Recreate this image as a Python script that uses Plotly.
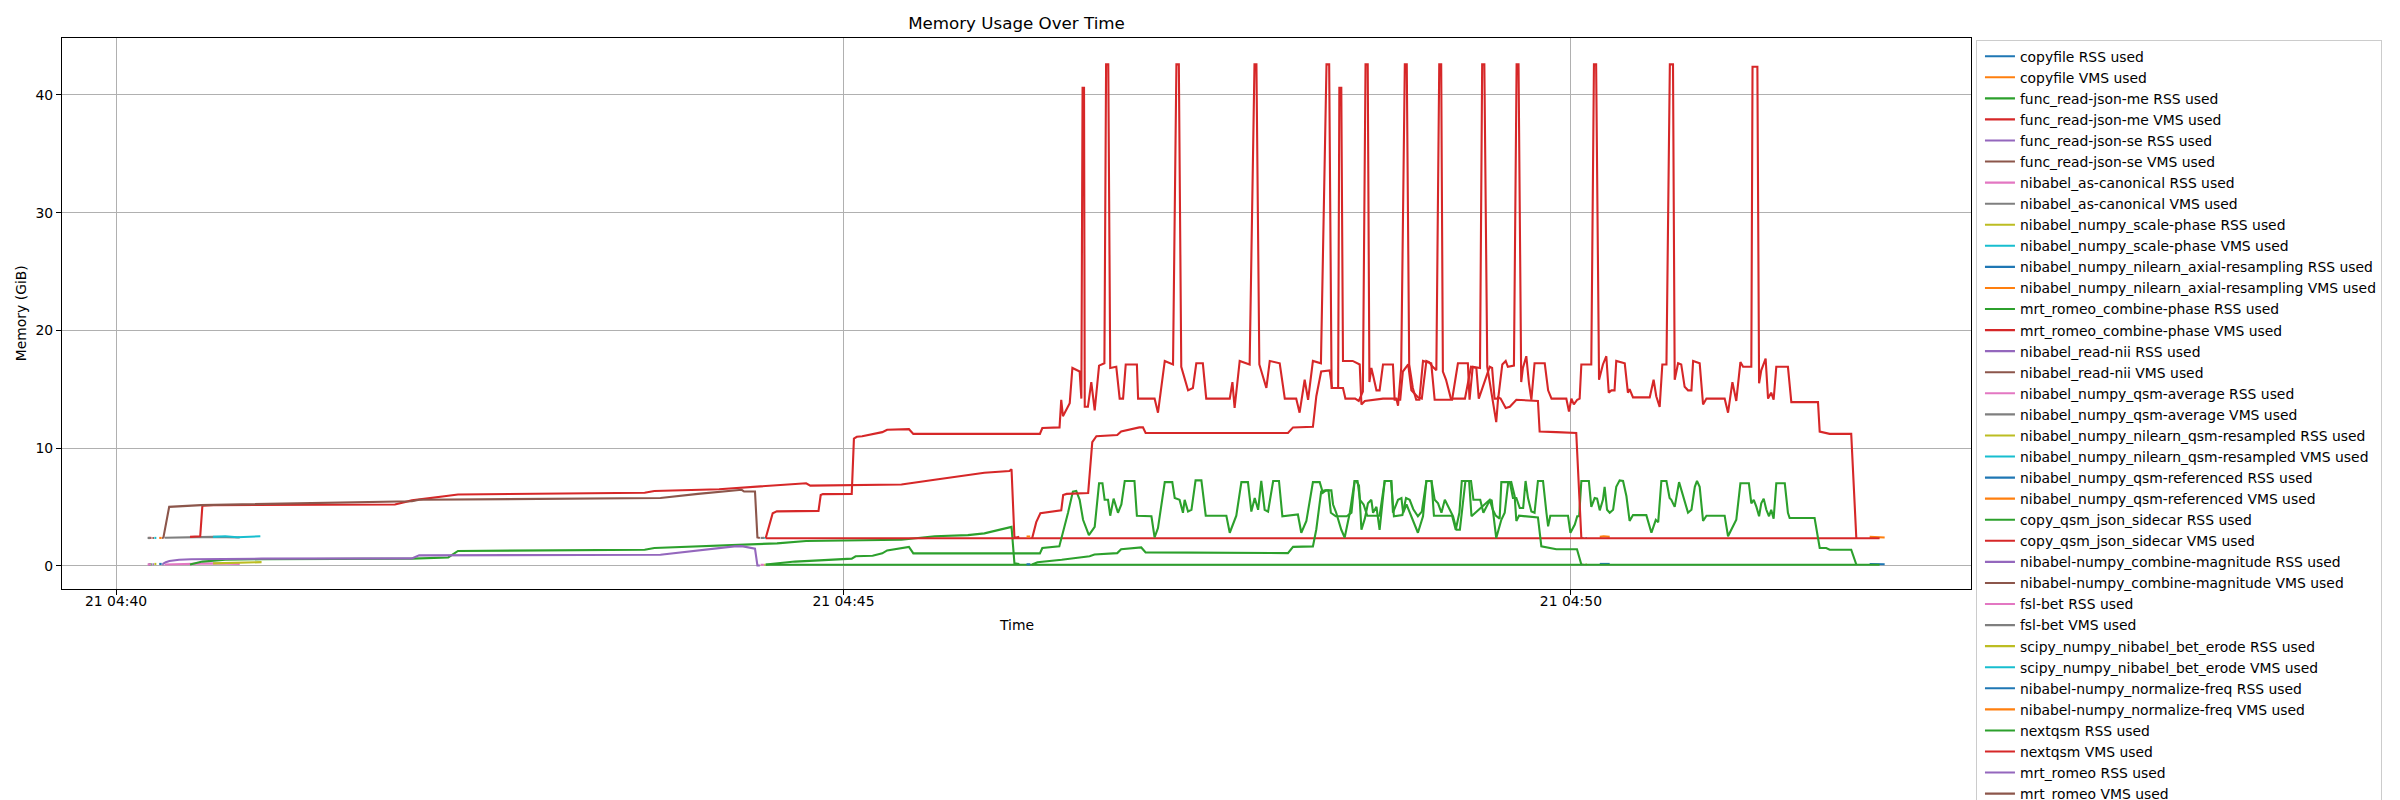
import pandas as pd
import plotly.graph_objects as go

# times are seconds after 04:40:00, values in GiB; each list holds line segments
START = pd.Timestamp("2024-03-21 04:40:00")

copyfile_rss = [[(17.8, 0.15), (18.8, 0.15)]]
copyfile_vms = [[(17.8, 2.36), (18.8, 2.36)]]

read_json_me_rss = [[(13.5, 0.12), (14.7, 0.12)]]
read_json_me_vms = [[(13.3, 2.36), (14.6, 2.36)]]

read_json_se_rss = [[(13.2, 0.1), (14.0, 0.1)]]
read_json_se_vms = [[(13.2, 2.35), (14.0, 2.35)]]

as_canonical_rss = [[(13.0, 0.1), (14.5, 0.12)],
                    [(20.0, 0.1), (30.0, 0.15), (40.0, 0.2), (51.0, 0.15)]]
as_canonical_vms = [[(13.0, 2.36), (14.3, 2.36)],
                    [(20.0, 2.38), (30.0, 2.42), (40.0, 2.45), (51.0, 2.4)]]

scale_phase_rss = [[(15.8, 0.15), (16.6, 0.15)],
                   [(40.0, 0.2), (50.0, 0.22), (55.0, 0.25), (60.0, 0.3)]]
scale_phase_vms = [[(15.8, 2.36), (16.6, 2.36)],
                   [(40.0, 2.45), (45.0, 2.5), (50.0, 2.42), (55.0, 2.45), (59.5, 2.5)]]

axial_resampling_rss = [[(611.9, 0.15), (616.0, 0.15)]]
axial_resampling_vms = [[(611.9, 2.45), (613.5, 2.5), (616.0, 2.45)]]

combine_phase_rss = [[(30.5, 0.1), (35.6, 0.35), (45.0, 0.5), (60.0, 0.55), (122.0, 0.6),
                      (137.0, 0.7), (141.0, 1.25), (218.0, 1.35), (222.0, 1.5), (248.7, 1.7),
                      (262.0, 1.8), (272.6, 1.9), (284.6, 2.1), (323.9, 2.2), (337.6, 2.5),
                      (351.3, 2.6), (358.1, 2.75), (368.4, 3.2), (369.3, 3.3), (370.5, 0.2),
                      (372.5, 0.15)]]
combine_phase_vms = [[(30.5, 2.45), (34.7, 2.5), (35.6, 5.1), (40.0, 5.15), (115.0, 5.2),
                      (122.0, 5.55), (137.0, 5.95), (141.0, 6.05), (218.0, 6.2), (222.0, 6.35),
                      (248.7, 6.5), (262.0, 6.7), (272.6, 6.8), (284.6, 7.0), (286.3, 6.8),
                      (323.9, 6.9), (337.6, 7.3), (351.3, 7.7), (358.1, 7.9), (368.4, 8.05),
                      (369.3, 8.2), (370.5, 2.35), (372.5, 2.45)]]

read_nii_rss = [[(15.0, 0.12), (15.6, 0.12)]]
read_nii_vms = [[(15.0, 2.35), (15.6, 2.35)]]

qsm_average_rss = [[(604.6, 0.1), (605.2, 0.1)]]
qsm_average_vms = [[(604.6, 2.35), (605.2, 2.35)]]

qsm_resampled_rss = [[(606.0, 0.1), (606.6, 0.1)]]
qsm_resampled_vms = [[(606.0, 2.35), (606.6, 2.35)]]

qsm_referenced_rss = [[(723.2, 0.15), (726.0, 0.12), (729.4, 0.12)]]
qsm_referenced_vms = [[(723.2, 2.45), (726.0, 2.4), (729.4, 2.4)]]

sidecar_rss = [[(267.9, 0.08), (400.0, 0.08), (550.0, 0.09), (727.3, 0.08)]]
sidecar_vms = [[(267.9, 2.33), (400.0, 2.33), (550.0, 2.34), (727.3, 2.33)]]

combine_magnitude_rss = [[(19.0, 0.12), (19.6, 0.12)]]
combine_magnitude_vms = [[(19.0, 2.35), (19.6, 2.35)]]

fsl_bet_rss = [[(265.8, 0.08), (267.2, 0.08)]]
fsl_bet_vms = [[(265.8, 2.36), (267.2, 2.36)]]

bet_erode_rss = [[(267.3, 0.08), (267.8, 0.08)]]
bet_erode_vms = [[(267.3, 2.35), (267.8, 2.35)]]

normalize_freq_rss = [[(375.5, 0.12), (377.0, 0.12)]]
normalize_freq_vms = [[(375.5, 2.48), (377.0, 2.48)]]

nextqsm_rss = [
    [(267.9, 0.1), (275.0, 0.25), (280.0, 0.35), (290.0, 0.45), (303.4, 0.6), (305.0, 0.8),
     (312.0, 0.85), (316.0, 1.05), (318.0, 1.3), (327.0, 1.6), (328.8, 1.05), (381.0, 1.05),
     (382.0, 1.5), (389.0, 1.64), (391.2, 3.3), (392.6, 4.5), (394.6, 6.3), (396.0, 6.35),
     (397.4, 5.6), (398.8, 3.9), (401.2, 2.6), (403.6, 3.3), (405.4, 7.0), (406.8, 7.0),
     (407.7, 5.6), (409.1, 5.6), (410.0, 4.25), (411.4, 5.7), (413.2, 4.5), (414.6, 5.2),
     (416.0, 7.2), (420.0, 7.2), (421.0, 4.25), (427.0, 4.2), (428.3, 2.4), (429.7, 3.2),
     (432.5, 7.1), (435.6, 7.1), (436.6, 5.75), (438.6, 5.6), (440.0, 4.5), (440.7, 5.6),
     (442.1, 4.6), (443.5, 4.75), (445.2, 7.25), (447.6, 7.25), (449.4, 4.25), (457.9, 4.25),
     (459.3, 2.8), (462.0, 4.25), (464.1, 7.1), (466.8, 7.1), (468.2, 4.6), (469.6, 5.75),
     (471.0, 4.75), (472.3, 7.2), (473.7, 4.75), (475.1, 4.6), (477.2, 7.2), (479.6, 7.2),
     (481.0, 4.2), (487.4, 4.35), (488.8, 2.8), (490.9, 3.8), (493.6, 7.1), (496.4, 7.1),
     (497.7, 6.2), (499.0, 6.4), (501.2, 6.4), (501.9, 5.2), (503.2, 4.5), (505.3, 3.05),
     (506.7, 2.4), (508.8, 4.5), (510.8, 7.2), (511.5, 7.2), (512.6, 6.8), (513.6, 3.05),
     (515.0, 4.0), (516.3, 5.3), (517.7, 5.6), (518.4, 4.5), (519.8, 5.0), (521.1, 3.05),
     (523.2, 7.2), (526.0, 7.2), (526.6, 4.5), (528.7, 5.6), (530.1, 5.75), (530.8, 4.5),
     (532.2, 5.2), (534.2, 4.2), (536.9, 2.8), (539.0, 4.2), (540.4, 7.2), (542.5, 7.2),
     (543.8, 5.6), (545.2, 5.3), (546.6, 4.5), (548.0, 5.6), (551.4, 4.2), (552.8, 3.05),
     (554.2, 3.05), (556.5, 7.2), (558.8, 7.2), (559.8, 5.6), (562.6, 5.6), (563.9, 4.5),
     (565.9, 5.3), (567.3, 5.6), (569.2, 2.35), (571.3, 3.9), (572.7, 4.5), (574.1, 7.0),
     (575.4, 7.1), (576.8, 5.9), (577.5, 3.8), (578.6, 4.25), (586.4, 4.1), (587.8, 1.64),
     (594.0, 1.4), (602.5, 1.4), (604.3, 0.1)],
    [(377.8, 0.1), (380.0, 0.3), (390.0, 0.5), (401.5, 0.8), (403.5, 0.95), (407.0, 1.0),
     (412.9, 1.07), (414.5, 1.4), (422.8, 1.55), (424.6, 1.13), (483.3, 1.07), (485.4, 1.6),
     (493.6, 1.64), (495.0, 3.1), (497.0, 6.3), (498.5, 6.4), (500.0, 6.4), (501.0, 4.5),
     (503.0, 4.2), (507.5, 4.2), (509.5, 4.5), (510.8, 7.2), (512.0, 7.2), (513.0, 5.6),
     (514.5, 5.2), (516.0, 4.25), (521.1, 4.25), (523.2, 7.2), (525.8, 7.2), (527.0, 4.2),
     (530.5, 4.3), (532.0, 5.75), (533.5, 5.6), (535.0, 4.8), (536.9, 4.2), (538.5, 4.6),
     (540.4, 7.2), (542.5, 7.2), (543.5, 4.25), (551.0, 4.25), (552.5, 3.05), (554.0, 4.5),
     (555.0, 7.2), (558.0, 7.2), (559.0, 4.2), (566.5, 5.6), (567.8, 4.75), (569.0, 4.25),
     (570.6, 4.0), (571.3, 7.1), (574.8, 7.1), (576.1, 5.75), (577.5, 5.75), (578.9, 4.9),
     (580.3, 4.9), (581.3, 7.2), (582.3, 5.75), (583.7, 4.6), (585.0, 4.5), (586.4, 7.2),
     (588.5, 7.2), (589.9, 4.5), (590.6, 3.35), (591.5, 4.25), (598.8, 4.25), (599.8, 2.8),
     (601.6, 3.5), (602.6, 4.2), (603.4, 4.2), (604.3, 7.2), (607.4, 7.2), (608.4, 5.0),
     (609.8, 5.75), (610.8, 5.7), (611.9, 4.7), (613.2, 5.6), (613.9, 6.7), (614.9, 4.75),
     (616.0, 4.5), (617.4, 4.75), (618.7, 6.7), (620.1, 7.25), (621.5, 7.2), (622.9, 5.9),
     (624.2, 3.8), (625.6, 4.3), (631.1, 4.3), (633.2, 2.8), (635.0, 3.9), (636.0, 3.7),
     (637.3, 7.2), (639.4, 7.2), (640.7, 5.75), (641.4, 5.6), (642.8, 5.0), (644.6, 7.1),
     (646.2, 5.9), (648.3, 4.5), (649.7, 4.75), (651.1, 6.7), (652.0, 7.2), (653.1, 6.7),
     (654.5, 3.8), (655.9, 4.25), (663.4, 4.25), (664.8, 2.5), (668.2, 3.9), (669.9, 7.0),
     (673.4, 7.0), (674.4, 5.3), (675.4, 5.6), (676.5, 5.0), (677.6, 4.2), (678.5, 5.3),
     (679.5, 5.7), (680.6, 4.75), (681.7, 4.2), (682.6, 4.75), (683.6, 4.0), (684.7, 7.0),
     (688.2, 7.0), (689.5, 4.5), (690.2, 4.05), (700.5, 4.05), (702.6, 1.5), (705.3, 1.5),
     (706.7, 1.36), (715.6, 1.36), (717.7, 0.1)],
]

nextqsm_vms = [
    [(267.9, 2.33), (269.2, 3.2), (270.8, 4.46), (272.5, 4.62), (289.7, 4.66), (290.6, 6.0),
     (291.5, 6.08), (303.4, 6.1), (304.3, 10.8), (305.5, 10.95), (307.7, 11.0), (316.0, 11.35),
     (318.0, 11.55), (327.0, 11.6), (328.8, 11.2), (381.0, 11.2), (382.0, 11.7), (389.1, 11.75),
     (389.8, 14.1), (390.5, 12.7), (391.2, 13.0), (393.3, 13.8), (394.4, 16.8), (397.4, 16.5),
     (398.1, 14.2), (398.6, 40.6), (399.2, 40.6), (399.5, 13.5), (400.8, 13.5), (402.2, 15.6),
     (403.6, 13.2), (405.4, 17.0), (407.6, 17.2), (408.3, 42.6), (409.2, 42.6), (410.0, 16.8),
     (412.5, 16.9), (413.9, 14.2), (415.3, 14.2), (416.4, 17.1), (421.0, 17.1), (421.5, 14.2),
     (428.3, 14.2), (429.7, 13.0), (432.5, 17.4), (435.9, 17.1), (437.3, 42.6), (438.3, 42.6),
     (439.3, 16.9), (442.1, 14.9), (444.1, 15.1), (445.5, 17.2), (448.2, 17.2), (449.6, 14.2),
     (459.3, 14.2), (460.4, 15.6), (461.3, 13.4), (463.4, 17.4), (467.5, 17.1), (469.5, 42.6),
     (470.3, 42.6), (471.5, 17.1), (474.4, 15.1), (475.8, 17.4), (479.9, 17.2), (482.0, 14.2),
     (486.7, 14.2), (488.1, 13.0), (490.2, 15.8), (491.6, 14.1), (493.6, 17.4), (496.9, 17.2),
     (499.2, 42.6), (500.3, 42.6), (501.3, 15.1), (504.0, 15.1), (504.5, 40.6), (505.3, 40.6),
     (506.0, 17.4), (510.0, 17.4), (512.9, 17.1), (513.6, 13.7), (515.0, 14.0), (522.5, 14.2),
     (528.0, 14.2), (528.7, 13.6), (530.0, 16.8), (531.5, 42.6), (532.3, 42.6), (533.3, 17.1),
     (534.8, 15.1), (536.2, 14.1), (537.5, 14.1), (539.0, 17.4), (542.4, 17.2), (543.8, 14.1),
     (551.0, 14.1), (553.4, 17.2), (557.5, 17.2), (558.2, 14.1), (559.5, 16.9), (562.5, 16.8),
     (563.4, 42.6), (564.3, 42.6), (565.5, 16.9), (567.6, 14.2), (569.2, 12.2), (570.0, 14.3),
     (571.0, 14.2), (573.1, 13.4), (574.8, 13.5), (577.5, 14.1), (586.4, 14.0), (587.1, 11.4),
     (588.5, 11.4), (594.0, 11.35), (602.2, 11.27), (604.3, 2.35)],
    [(377.8, 2.33), (378.7, 3.0), (379.5, 3.7), (381.2, 4.45), (389.8, 4.7), (390.6, 6.0),
     (392.0, 6.1), (400.9, 6.17), (402.6, 10.5), (404.3, 11.0), (412.9, 11.1), (414.5, 11.4),
     (422.0, 11.75), (423.5, 11.75), (424.6, 11.27), (483.3, 11.27), (485.4, 11.75),
     (493.6, 11.8), (495.0, 14.4), (497.0, 16.5), (500.5, 16.6), (501.5, 15.1), (506.0, 15.1),
     (507.0, 14.2), (511.0, 14.2), (512.5, 14.0), (514.2, 14.8), (515.3, 42.6), (516.2, 42.6),
     (516.9, 15.6), (517.7, 16.8), (518.5, 16.1), (519.8, 14.9), (521.1, 14.9), (522.5, 17.1),
     (526.6, 17.1), (527.3, 14.1), (529.6, 14.1), (530.7, 16.5), (532.9, 17.1), (534.2, 14.9),
     (537.0, 14.3), (538.5, 14.2), (540.4, 17.4), (541.5, 17.3), (543.0, 16.9), (544.5, 16.6),
     (545.7, 42.6), (546.5, 42.6), (547.2, 16.5), (548.5, 15.8), (550.5, 14.2), (556.3, 14.2),
     (558.8, 16.9), (561.0, 16.8), (562.0, 14.2), (566.5, 16.9), (567.5, 16.8), (568.5, 14.2),
     (570.0, 14.2), (571.7, 17.1), (573.1, 17.4), (574.0, 16.9), (576.5, 17.0), (577.6, 42.6),
     (578.4, 42.6), (579.5, 15.6), (580.2, 16.8), (581.6, 17.8), (582.7, 15.5), (583.7, 14.1),
     (585.0, 17.2), (589.2, 17.2), (590.6, 14.9), (592.0, 14.2), (598.1, 14.2), (599.2, 13.1),
     (600.2, 14.2), (601.2, 13.7), (602.6, 14.1), (603.6, 14.2), (604.3, 17.1), (608.4, 17.1),
     (609.5, 42.6), (610.4, 42.6), (611.6, 15.8), (613.2, 17.1), (614.6, 17.8), (615.6, 14.7),
     (616.7, 14.9), (618.0, 14.9), (618.7, 17.4), (622.2, 17.2), (623.5, 14.7), (624.2, 15.0),
     (625.6, 14.3), (632.5, 14.3), (634.1, 15.8), (635.2, 14.4), (636.6, 13.5), (637.7, 17.1),
     (639.4, 17.1), (640.8, 42.6), (642.1, 42.6), (642.8, 15.8), (644.2, 17.2), (645.5, 17.1),
     (646.9, 15.2), (648.3, 14.9), (649.7, 14.9), (650.4, 17.4), (653.1, 17.2), (654.5, 13.7),
     (655.9, 14.2), (663.4, 14.2), (664.8, 13.0), (666.6, 15.6), (668.2, 14.0), (669.9, 17.3),
     (671.0, 16.9), (674.4, 16.9), (674.9, 42.4), (676.9, 42.4), (677.6, 15.5), (678.5, 16.6),
     (680.3, 17.6), (681.3, 14.2), (682.6, 14.7), (683.6, 14.1), (684.7, 16.9), (689.5, 16.9),
     (690.9, 13.9), (701.9, 13.9), (702.6, 11.4), (705.3, 11.3), (706.7, 11.2), (715.6, 11.2),
     (717.7, 2.35)],
]

romeo_rss = [[(19.3, 0.15), (20.5, 0.3), (22.0, 0.4), (26.0, 0.5), (31.0, 0.55), (60.0, 0.6),
              (122.0, 0.62), (125.0, 0.88), (224.5, 0.93), (240.0, 1.3), (255.0, 1.64),
              (258.0, 1.66), (262.0, 1.5), (263.5, 1.45), (264.5, 0.02), (265.5, 0.02)]]
romeo_vms = [[(19.5, 2.36), (21.0, 4.0), (21.9, 5.0), (35.0, 5.15), (115.0, 5.45),
              (122.0, 5.47), (125.0, 5.6), (224.5, 5.75), (240.0, 6.1), (255.0, 6.4),
              (258.0, 6.45), (259.0, 6.3), (263.5, 6.3), (264.5, 2.4), (265.5, 2.36)]]

series = [
    ("copyfile RSS used", copyfile_rss),
    ("copyfile VMS used", copyfile_vms),
    ("func_read-json-me RSS used", read_json_me_rss),
    ("func_read-json-me VMS used", read_json_me_vms),
    ("func_read-json-se RSS used", read_json_se_rss),
    ("func_read-json-se VMS used", read_json_se_vms),
    ("nibabel_as-canonical RSS used", as_canonical_rss),
    ("nibabel_as-canonical VMS used", as_canonical_vms),
    ("nibabel_numpy_scale-phase RSS used", scale_phase_rss),
    ("nibabel_numpy_scale-phase VMS used", scale_phase_vms),
    ("nibabel_numpy_nilearn_axial-resampling RSS used", axial_resampling_rss),
    ("nibabel_numpy_nilearn_axial-resampling VMS used", axial_resampling_vms),
    ("mrt_romeo_combine-phase RSS used", combine_phase_rss),
    ("mrt_romeo_combine-phase VMS used", combine_phase_vms),
    ("nibabel_read-nii RSS used", read_nii_rss),
    ("nibabel_read-nii VMS used", read_nii_vms),
    ("nibabel_numpy_qsm-average RSS used", qsm_average_rss),
    ("nibabel_numpy_qsm-average VMS used", qsm_average_vms),
    ("nibabel_numpy_nilearn_qsm-resampled RSS used", qsm_resampled_rss),
    ("nibabel_numpy_nilearn_qsm-resampled VMS used", qsm_resampled_vms),
    ("nibabel_numpy_qsm-referenced RSS used", qsm_referenced_rss),
    ("nibabel_numpy_qsm-referenced VMS used", qsm_referenced_vms),
    ("copy_qsm_json_sidecar RSS used", sidecar_rss),
    ("copy_qsm_json_sidecar VMS used", sidecar_vms),
    ("nibabel-numpy_combine-magnitude RSS used", combine_magnitude_rss),
    ("nibabel-numpy_combine-magnitude VMS used", combine_magnitude_vms),
    ("fsl-bet RSS used", fsl_bet_rss),
    ("fsl-bet VMS used", fsl_bet_vms),
    ("scipy_numpy_nibabel_bet_erode RSS used", bet_erode_rss),
    ("scipy_numpy_nibabel_bet_erode VMS used", bet_erode_vms),
    ("nibabel-numpy_normalize-freq RSS used", normalize_freq_rss),
    ("nibabel-numpy_normalize-freq VMS used", normalize_freq_vms),
    ("nextqsm RSS used", nextqsm_rss),
    ("nextqsm VMS used", nextqsm_vms),
    ("mrt_romeo RSS used", romeo_rss),
    ("mrt_romeo VMS used", romeo_vms),
]

# matplotlib tab10 cycle
colors = ['#1f77b4', '#ff7f0e', '#2ca02c', '#d62728', '#9467bd',
          '#8c564b', '#e377c2', '#7f7f7f', '#bcbd22', '#17becf']


def to_xy(segments):
    xs, ys = [], []
    for seg in segments:
        for t, v in seg:
            xs.append((START + pd.Timedelta(seconds=t)).to_pydatetime())
            ys.append(v)
        xs.append(None)
        ys.append(None)
    return xs, ys


font = "DejaVu Sans"
fig = go.Figure()
for i, (name, segs) in enumerate(series):
    x, y = to_xy(segs)
    fig.add_trace(go.Scatter(x=x, y=y, mode="lines", name=name, connectgaps=False,
                             line=dict(color=colors[i % 10], width=2.1)))

x_lo = START + pd.Timedelta(seconds=-22.3)
x_hi = START + pd.Timedelta(seconds=765.0)

# the page body adds an 8px offset, so the figure is 8px smaller than the window
W, H = 2392, 792

fig.update_layout(
    width=W, height=H,
    paper_bgcolor="white", plot_bgcolor="white",
    font=dict(family=font, size=13.9, color="black"),
    margin=dict(l=54, r=429, t=30, b=211, autoexpand=False),
    title=dict(text="Memory Usage Over Time", x=0.5, xref="paper", xanchor="center",
               y=1 - 15 / H, yref="container", yanchor="middle",
               font=dict(family=font, size=16.7, color="black")),
    xaxis=dict(type="date", range=[x_lo, x_hi], tick0=START, dtick=300000,
               tickformat="%d %H:%M", showgrid=True, gridcolor="#b0b0b0", gridwidth=1.1,
               showline=True, linecolor="black", linewidth=1.1, mirror=True,
               ticks="outside", ticklen=5, tickwidth=1.1, tickcolor="black",
               ticklabelstandoff=-6, zeroline=False, tickfont=dict(size=13.9)),
    yaxis=dict(range=[-1.98, 44.84], tick0=0, dtick=10, showgrid=True,
               gridcolor="#b0b0b0", gridwidth=1.1, showline=True, linecolor="black",
               linewidth=1.1, mirror=True, ticks="outside", ticklen=5, tickwidth=1.1,
               tickcolor="black", zeroline=False, tickfont=dict(size=13.9)),
    legend=dict(x=1.0026, xanchor="left", y=0.997, yanchor="top", traceorder="normal",
                bgcolor="white", bordercolor="#cccccc", borderwidth=1, indentation=3,
                font=dict(family=font, size=13.9, color="black"), maxheight=2000),
    annotations=[
        dict(text="Time", xref="paper", yref="paper", x=0.5, y=-(625 - 589.3) / 551.3,
             xanchor="center", yanchor="middle", showarrow=False,
             font=dict(family=font, size=13.9)),
        dict(text="Memory (GiB)", xref="paper", yref="paper", x=-(62.3 - 21) / 1909,
             y=0.5, xanchor="center", yanchor="middle", textangle=-90, showarrow=False,
             font=dict(family=font, size=13.9)),
    ],
)

fig.write_html("out.html")
